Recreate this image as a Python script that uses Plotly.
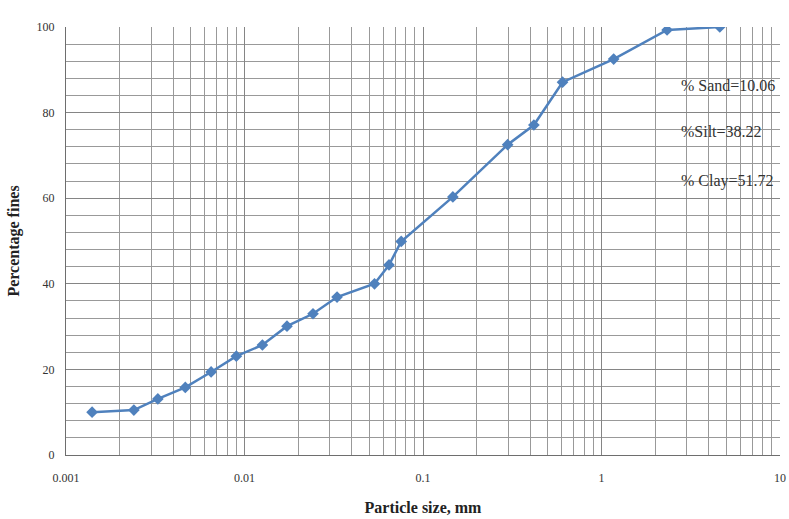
import plotly.graph_objects as go

particle_size_mm = [0.0014, 0.0024, 0.00327, 0.00466, 0.0065, 0.009, 0.0126, 0.0173, 0.0242,
                    0.033, 0.0535, 0.0645, 0.0755, 0.147, 0.298, 0.418, 0.605, 1.17, 2.33, 4.6]
percent_fines = [10.0, 10.5, 13.1, 15.8, 19.4, 23.1, 25.7, 30.1, 33.0,
                 36.9, 40.0, 44.4, 49.9, 60.3, 72.5, 77.1, 87.1, 92.5, 99.3, 100.0]

x_tick_vals = [0.001, 0.01, 0.1, 1, 10]
x_tick_text = ["0.001", "0.01", "0.1", "1", "10"]
x_minor_vals = [m * 10 ** e for e in range(-3, 1) for m in range(2, 10)]
y_tick_vals = [0, 20, 40, 60, 80, 100]

notes = ["% Sand=10.06", "%Silt=38.22", "% Clay=51.72"]
note_y = [86.4, 75.7, 64.0]

line_color = "#4F81BD"
grid_color = "#858585"

fig = go.Figure()
fig.add_trace(go.Scatter(
    x=particle_size_mm, y=percent_fines, mode="lines+markers",
    line=dict(color=line_color, width=2.5),
    marker=dict(symbol="diamond", size=9, color=line_color),
    showlegend=False,
))

for t, yv in zip(notes, note_y):
    fig.add_annotation(x=0.8585, xref="paper", y=yv, yref="y", text=t, showarrow=False,
                       xanchor="left",
                       font=dict(family="Liberation Serif", size=16, color="#333333"))

fig.update_xaxes(
    type="log", range=[-3, 1], automargin=False,
    tickvals=x_tick_vals, ticktext=x_tick_text,
    showgrid=True, gridcolor=grid_color, gridwidth=1,
    minor=dict(tickvals=x_minor_vals, showgrid=True, gridcolor="#999999", gridwidth=1, ticks=""),
    showline=True, linecolor="#6e6e6e", linewidth=1, mirror=False,
    ticks="", ticklabelstandoff=12,
    tickfont=dict(family="Liberation Sans Narrow", size=12, color="#333333"),
    title=dict(text="<b>Particle size, mm</b>", standoff=17,
               font=dict(family="Liberation Serif", size=16, color="#222222")),
    zeroline=False,
)
fig.update_yaxes(
    range=[0, 100], tickvals=y_tick_vals, automargin=False,
    showgrid=True, gridcolor=grid_color, gridwidth=1,
    minor=dict(dtick=4, showgrid=True, gridcolor="#999999", gridwidth=1, ticks=""),
    showline=True, linecolor="#6e6e6e", linewidth=1,
    ticks="", ticklabelstandoff=8,
    tickfont=dict(family="Liberation Sans Narrow", size=12, color="#333333"),
    title=dict(text="<b>Percentage fines</b>", standoff=12,
               font=dict(family="Liberation Serif", size=16, color="#222222")),
    zeroline=False,
)

fig.update_layout(
    width=789, height=519,
    margin=dict(l=66, r=9, t=27, b=64),
    plot_bgcolor="white", paper_bgcolor="white",
)

fig.write_html("out.html")
